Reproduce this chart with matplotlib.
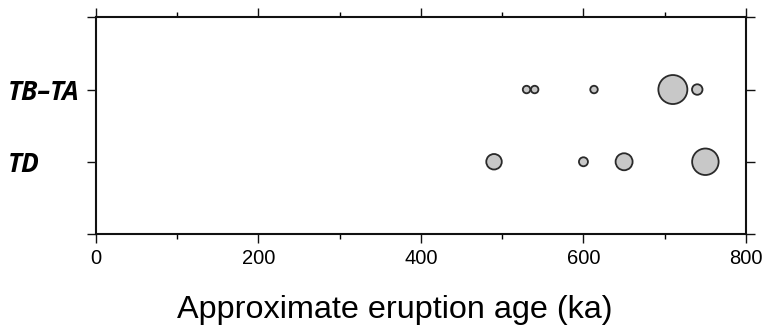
import matplotlib
matplotlib.use("Agg")
import matplotlib.pyplot as plt
from matplotlib.ticker import MultipleLocator

# Data (ka = thousand years)
units = ["TD", "TB\u2013TA"]
td_age = [490, 600, 650, 750]
td_size = [15.5, 9.0, 17.0, 26.5]      # bubble diameter (px)
tbta_age = [530, 540, 613, 710, 740]
tbta_size = [7.5, 7.5, 7.5, 29.0, 10.5]

DPI = 100
fig = plt.figure(figsize=(7.65, 3.29), dpi=DPI)
ax = fig.add_axes([0.1251, 0.2888, 0.8501, 0.6586])

def px_to_s(d):
    # scatter size is area in pt^2
    return (d * 72.0 / DPI) ** 2

face = "#c8c8c8"
edge = "#2a2a2a"
ax.scatter(td_age, [1] * len(td_age), s=[px_to_s(d) for d in td_size],
           facecolor=face, edgecolor=edge, linewidth=1.3, zorder=3)
ax.scatter(tbta_age, [2] * len(tbta_age), s=[px_to_s(d) for d in tbta_size],
           facecolor=face, edgecolor=edge, linewidth=1.3, zorder=3)

ax.set_xlim(0, 800)
ax.set_ylim(0, 3)
ax.xaxis.set_major_locator(MultipleLocator(200))
ax.xaxis.set_minor_locator(MultipleLocator(100))
ax.set_yticks([0, 1, 2, 3])
ax.set_yticklabels(["", units[0], units[1], ""])

for s in ax.spines.values():
    s.set_linewidth(1.5)
    s.set_color("#111111")

ax.tick_params(axis="both", which="major", direction="out", length=6.5, width=1.0,
               top=True, right=True, colors="#111111")
ax.tick_params(axis="x", which="minor", direction="out", length=3.5, width=1.0,
               top=True, bottom=True)
ax.tick_params(axis="x", which="major", labelsize=14.5, pad=4, labelcolor="black")
ax.tick_params(axis="y", which="major", pad=57, labelcolor="black")

for lab in ax.get_xticklabels():
    lab.set_fontfamily("Liberation Sans")
for lab in ax.get_yticklabels():
    lab.set_fontfamily("Open Sans")
    lab.set_fontweight("bold")
    lab.set_fontstyle("italic")
    lab.set_fontsize(19)
    lab.set_horizontalalignment("left")

fig.text(395 / 765, 1 - 318 / 329, "Approximate eruption age (ka)",
         ha="center", va="baseline", fontsize=23.3, family="Liberation Sans")

fig.savefig("out.png", dpi=DPI)
